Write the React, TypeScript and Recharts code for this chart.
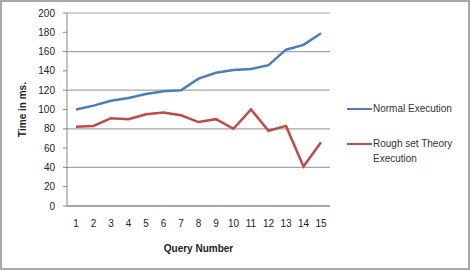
import React from "react";
import {
  LineChart,
  Line,
  XAxis,
  YAxis,
  CartesianGrid,
} from "recharts";

const queries = ["1", "2", "3", "4", "5", "6", "7", "8", "9", "10", "11", "12", "13", "14", "15"];
const normalExecution = [100, 104, 109, 112, 116, 119, 120, 132, 138, 141, 142, 146, 162, 167, 179];
const roughSetExecution = [82, 83, 91, 90, 95, 97, 94, 87, 90, 80, 100, 78, 83, 41, 66];
const yTicks = [0, 20, 40, 60, 80, 100, 120, 140, 160, 180, 200];

const seriesInfo = [
  { key: "normal", name: "Normal Execution", color: "#4a7ebb" },
  { key: "rough", name: "Rough set Theory Execution", color: "#be4b48" },
];

const data = queries.map((q, i) => ({
  query: q,
  normal: normalExecution[i],
  rough: roughSetExecution[i],
}));

const font = "'Liberation Sans', Arial, sans-serif";

function LegendBox() {
  return (
    <div
      style={{
        position: "absolute",
        left: 347,
        top: 101,
        width: 115,
        fontFamily: font,
        fontSize: 10,
        color: "#333",
      }}
    >
      {seriesInfo.map((s) => (
        <div
          key={s.key}
          style={{ display: "flex", alignItems: "flex-start", marginBottom: 20 }}
        >
          <span
            style={{
              display: "inline-block",
              width: 25,
              height: 2,
              marginTop: 7,
              background: s.color,
            }}
          />
          <span style={{ display: "inline-block", width: 86, lineHeight: "15px", marginLeft: 1 }}>
            {s.name}
          </span>
        </div>
      ))}
    </div>
  );
}

export default function App() {
  return (
    <div style={{ position: "absolute", left: 0, top: 0, width: 470, height: 271 }}>
      <div
        style={{
          position: "absolute",
          left: 0,
          top: 0,
          width: 470,
          height: 270,
          boxSizing: "border-box",
          border: "2px solid #a8a8a8",
        }}
      />
      <LineChart
        width={470}
        height={271}
        data={data}
        margin={{ top: 13, right: 140, left: 17, bottom: 19 }}
      >
        <CartesianGrid vertical={false} stroke="#a6a6a6" strokeWidth={1.2} />
        <XAxis
          dataKey="query"
          tickLine={false}
          axisLine={{ stroke: "#a6a6a6", strokeWidth: 2 }}
          tick={{ fill: "#222", fontSize: 10, fontFamily: font }}
          tickSize={6}
          tickMargin={8}
          height={46}
          interval={0}
          padding={{ left: 9, right: 9 }}
          label={{
            value: "Query Number",
            position: "insideBottom",
            offset: 0,
            style: { fill: "#222", fontSize: 10, fontWeight: "bold", fontFamily: font },
          }}
        />
        <YAxis
          domain={[0, 200]}
          ticks={yTicks}
          width={50}
          axisLine={{ stroke: "#888" }}
          tickLine={{ stroke: "#888" }}
          tickSize={4}
          tickMargin={8}
          tick={{ fill: "#222", fontSize: 10, fontFamily: font }}
          label={{
            value: "Time in ms.",
            angle: -90,
            position: "insideLeft",
            offset: 5,
            style: { textAnchor: "middle", fill: "#222", fontSize: 10, fontWeight: "bold", fontFamily: font },
          }}
        />
        {seriesInfo.map((s) => (
          <Line
            key={s.key}
            type="linear"
            dataKey={s.key}
            name={s.name}
            stroke={s.color}
            strokeWidth={2.5}
            dot={false}
            isAnimationActive={false}
          />
        ))}
      </LineChart>
      <LegendBox />
    </div>
  );
}
